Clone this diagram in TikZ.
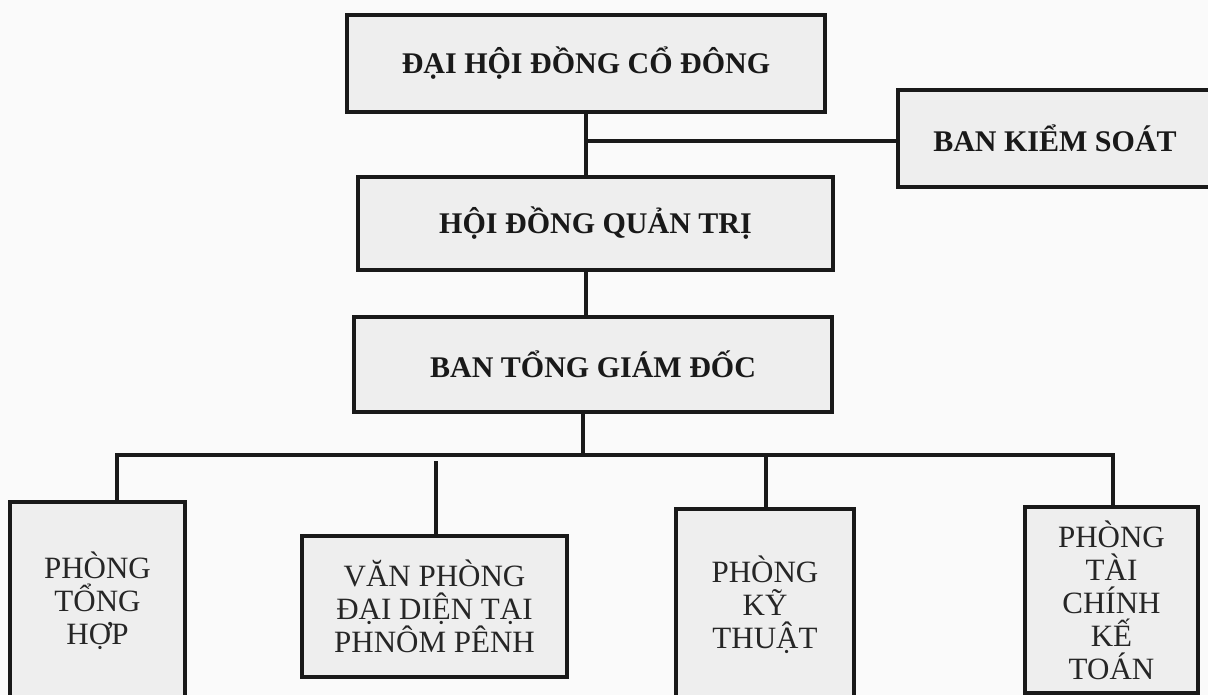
\documentclass[tikz,border=0pt]{standalone}
\usepackage{fontspec}
\setmainfont{Liberation Serif}
\begin{document}
\begin{tikzpicture}[x=1pt,y=-1pt,
  topbox/.style={draw=black!90,line width=3.5pt,fill=gray!13,rectangle,inner sep=0pt,
    font=\bfseries\fontsize{30}{33}\selectfont,text=black!90},
  lowbox/.style={draw=black!90,line width=3.5pt,fill=gray!13,rectangle,inner sep=0pt,
    align=center,font=\fontsize{31}{33}\selectfont,text=black!85},
  link/.style={draw=black!90,line width=3.2pt,line join=miter}]
\useasboundingbox[fill=gray!4] (0,0) rectangle (1208,695);
% top part
\node[topbox,minimum width=478pt,minimum height=97pt] (dhd) at (586,63.5) {ĐẠI HỘI ĐỒNG CỔ ĐÔNG};
\node[topbox,minimum width=314pt,minimum height=97pt] (bks) at (1055,138.5) {BAN KIỂM SOÁT};
\node[topbox,minimum width=475pt,minimum height=93pt] (hdqt) at (595.5,223.5) {HỘI ĐỒNG QUẢN TRỊ};
\node[topbox,minimum width=478pt,minimum height=95pt] (tgd) at (593,364.5) {BAN TỔNG GIÁM ĐỐC};
% bottom boxes
\node[lowbox,minimum width=175pt,minimum height=198pt] (p1) at (97.5,601) {PHÒNG\\TỔNG\\HỢP};
\node[lowbox,minimum width=265pt,minimum height=141pt] (p2) at (434.5,606.5) {VĂN PHÒNG\\ĐẠI DIỆN TẠI\\PHNÔM PÊNH};
\node[lowbox,minimum width=178pt,minimum height=192pt] (p3) at (765,605) {PHÒNG\\KỸ\\THUẬT};
\node[lowbox,minimum width=173pt,minimum height=186pt] (p4) at (1111.5,600) {PHÒNG\\TÀI\\CHÍNH\\KẾ\\TOÁN};
% connectors
\coordinate (j1) at (586,141);
\coordinate (bus) at (583,455);
\coordinate (busL) at (117,455);
\coordinate (busR) at (1113,455);
\coordinate (d2) at (436,461);
\coordinate (d3) at (766,455);
\path[link] (dhd.south) -- (dhd.south |- hdqt.north);
\path[link] (j1) -- (j1 -| bks.west);
\path[link] (hdqt.south -| j1) -- (tgd.north -| j1);
\path[link] (bus |- tgd.south) -- (bus);
\path[link] (busL |- p1.north) -- (busL) -- (busR) -- (busR |- p4.north);
\path[link] (d2) -- (d2 |- p2.north);
\path[link] (d3) -- (d3 |- p3.north);
\end{tikzpicture}
\end{document}
